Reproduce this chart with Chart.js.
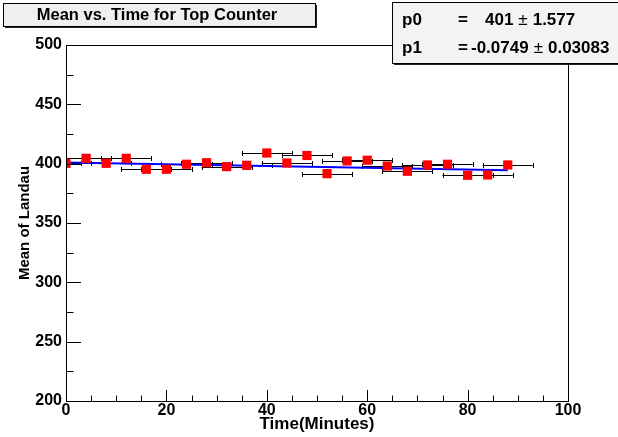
<!DOCTYPE html>
<html>
<head>
<meta charset="utf-8">
<script src="https://cdn.jsdelivr.net/npm/chart.js@4.4.1/dist/chart.umd.min.js"></script>
<style>
html, body { margin: 0; padding: 0; background: #fff; }
#wrap { width: 618px; height: 437px; }
</style>
</head>
<body>
<div id="wrap"><canvas id="c" width="618" height="437"></canvas></div>
<script>
// --- data ---
const times   = [0, 4, 8, 12, 16, 20, 24, 28, 32, 36, 40, 44, 48, 52, 56, 60, 64, 68, 72, 76, 80, 84, 88];
const means   = [400.3, 404.5, 400.3, 404.5, 395.3, 395.3, 399.5, 400.8, 397.5, 398.6, 409.0, 400.6,
                 406.9, 391.6, 402.3, 402.9, 398.0, 393.6, 398.9, 399.5, 390.2, 390.5, 398.9];
const timeErr = [5, 5, 5, 5, 5, 5, 5, 5, 5, 5, 5, 5, 5, 5, 5, 5, 5, 5, 5, 5, 5, 5, 5];
const meanErr = [2.5, 2.5, 2.5, 2.5, 2.5, 2.5, 2.5, 2.5, 2.5, 2.5, 2.5, 2.5,
                 2.5, 2.5, 2.5, 2.5, 2.5, 2.5, 2.5, 2.5, 2.5, 2.5, 2.5];
const xTicks = [0, 20, 40, 60, 80, 100];
const yTicks = [200, 250, 300, 350, 400, 450, 500];

// fit result (pol1) shown in the stats box
const fitP0 = 401, fitP1 = -0.0749;
const fitRange = [0, 88];
const statNames  = ['p0', 'p1'];
const statValues = ['401', '-0.0749'];
const statErrors = ['1.577', '0.03083'];

const FONT = '"Liberation Sans", Arial, sans-serif';

// --- ROOT-like decorations: error bars, frame, inside ticks, title + stats boxes ---
const rootStyle = {
    id: 'rootStyle',
    beforeDraw(chart) {
        const ctx = chart.ctx;
        ctx.save();
        ctx.fillStyle = '#fff';
        ctx.fillRect(0, 0, chart.width, chart.height);
        ctx.restore();
    },
    beforeDatasetsDraw(chart) {
        const ctx = chart.ctx, xs = chart.scales.x, ys = chart.scales.y, a = chart.chartArea;
        ctx.save();
        ctx.beginPath();
        ctx.rect(a.left, a.top, a.right - a.left, a.bottom - a.top);
        ctx.clip();
        ctx.strokeStyle = '#000';
        ctx.lineWidth = 1;
        times.forEach((t, i) => {
            const px = xs.getPixelForValue(t), py = ys.getPixelForValue(means[i]);
            const x1 = xs.getPixelForValue(t - timeErr[i]), x2 = xs.getPixelForValue(t + timeErr[i]);
            const y1 = ys.getPixelForValue(means[i] - meanErr[i]), y2 = ys.getPixelForValue(means[i] + meanErr[i]);
            const yy = Math.round(py) + 0.5, xx = Math.round(px) + 0.5;
            ctx.beginPath();
            ctx.moveTo(x1, yy); ctx.lineTo(x2, yy);
            ctx.moveTo(Math.round(x1) + 0.5, yy - 2.5); ctx.lineTo(Math.round(x1) + 0.5, yy + 2.5);
            ctx.moveTo(Math.round(x2) + 0.5, yy - 2.5); ctx.lineTo(Math.round(x2) + 0.5, yy + 2.5);
            ctx.moveTo(xx, y1); ctx.lineTo(xx, y2);
            ctx.moveTo(xx - 2, Math.round(y1) + 0.5); ctx.lineTo(xx + 2, Math.round(y1) + 0.5);
            ctx.moveTo(xx - 2, Math.round(y2) + 0.5); ctx.lineTo(xx + 2, Math.round(y2) + 0.5);
            ctx.stroke();
        });
        ctx.restore();
    },
    afterDraw(chart) {
        const ctx = chart.ctx, xs = chart.scales.x, ys = chart.scales.y, a = chart.chartArea;
        ctx.save();
        ctx.strokeStyle = '#000';
        ctx.lineWidth = 1;
        ctx.strokeRect(a.left + 0.5, a.top + 0.5, a.right - a.left, a.bottom - a.top);

        // ticks drawn inside the frame, majors at labels, minors between
        ctx.beginPath();
        for (let v = xs.min; v <= xs.max; v += 5) {
            const px = Math.round(xs.getPixelForValue(v)) + 0.5;
            const len = v % 20 === 0 ? 11 : 5.5;
            ctx.moveTo(px, a.bottom); ctx.lineTo(px, a.bottom - len);
        }
        for (let v = ys.min; v <= ys.max; v += 25) {
            const py = Math.round(ys.getPixelForValue(v)) + 0.5;
            const len = v % 50 === 0 ? 15 : 7.5;
            ctx.moveTo(a.left, py); ctx.lineTo(a.left + len, py);
        }
        ctx.stroke();

        // title box
        drawBox(ctx, 3, 3, 312, 23, '#efefef');
        ctx.fillStyle = '#000';
        ctx.font = 'bold 16.5px ' + FONT;
        ctx.textAlign = 'center';
        ctx.textBaseline = 'middle';
        ctx.fillText('Mean vs. Time for Top Counter', 157, 15);

        // stats box (runs off the right edge)
        drawBox(ctx, 392, 2, 240, 61, '#f3f3f3');
        ctx.fillStyle = '#000';
        ctx.textAlign = 'left';
        ctx.textBaseline = 'alphabetic';
        statNames.forEach((n, i) => {
            const base = 25 + i * 28;
            ctx.font = 'bold 17px ' + FONT;
            ctx.fillText(n, 402, base);
            ctx.fillText('=', 458, base);
            const vx = i === 0 ? 485 : 471;
            ctx.fillText(statValues[i], vx, base);
            const w = ctx.measureText(statValues[i]).width;
            ctx.font = '17px ' + FONT;
            ctx.fillText('\u00b1', vx + w + 5, base);
            const pw = ctx.measureText('\u00b1').width;
            ctx.font = 'bold 17px ' + FONT;
            ctx.fillText(statErrors[i], vx + w + pw + 10, base);
        });
        ctx.restore();
    }
};

function drawBox(ctx, x, y, w, h, fill) {
    ctx.fillStyle = '#222';
    ctx.fillRect(x + 2, y + 2, w, h);
    ctx.fillStyle = fill;
    ctx.fillRect(x, y, w, h);
    ctx.strokeStyle = '#000';
    ctx.lineWidth = 1;
    ctx.strokeRect(x + 0.5, y + 0.5, w, h);
}

const tickFont = { family: FONT, weight: 'bold', size: 16 };

new Chart(document.getElementById('c'), {
    data: {
        datasets: [
            {
                type: 'scatter',
                data: times.map((t, i) => ({ x: t, y: means[i] })),
                pointStyle: 'rect',
                pointRadius: 6.5,
                backgroundColor: '#ff0000',
                borderColor: '#ff0000',
                borderWidth: 0,
                order: 0
            },
            {
                type: 'line',
                data: fitRange.map(t => ({ x: t, y: fitP0 + fitP1 * t })),
                borderColor: '#0000ff',
                borderWidth: 2,
                pointRadius: 0,
                fill: false,
                order: 1
            }
        ]
    },
    options: {
        responsive: false,
        animation: false,
        devicePixelRatio: 1,
        layout: { padding: { top: 45, right: 50, left: 0, bottom: 0 } },
        plugins: { legend: { display: false }, tooltip: { enabled: false } },
        scales: {
            x: {
                type: 'linear', min: 0, max: 100,
                grid: { display: false, drawTicks: false }, border: { display: false },
                afterBuildTicks: s => { s.ticks = xTicks.map(v => ({ value: v })); },
                afterFit: s => { s.height = 36; },
                ticks: { font: tickFont, color: '#000', padding: 0, maxRotation: 0, autoSkip: false },
                title: { display: true, text: 'Time(Minutes)', font: { family: FONT, weight: 'bold', size: 17 },
                         color: '#000', padding: { top: 0, bottom: 2 } }
            },
            y: {
                type: 'linear', min: 200, max: 500,
                grid: { display: false, drawTicks: false }, border: { display: false },
                afterBuildTicks: s => { s.ticks = yTicks.map(v => ({ value: v })); },
                afterFit: s => { s.width = 66; },
                ticks: { font: tickFont, color: '#000', padding: 4, autoSkip: false },
                title: { display: true, text: 'Mean of Landau', font: { family: FONT, weight: 'bold', size: 15 },
                         color: '#000', padding: { top: 16, bottom: 0 } }
            }
        }
    },
    plugins: [rootStyle]
});
</script>
</body>
</html>
